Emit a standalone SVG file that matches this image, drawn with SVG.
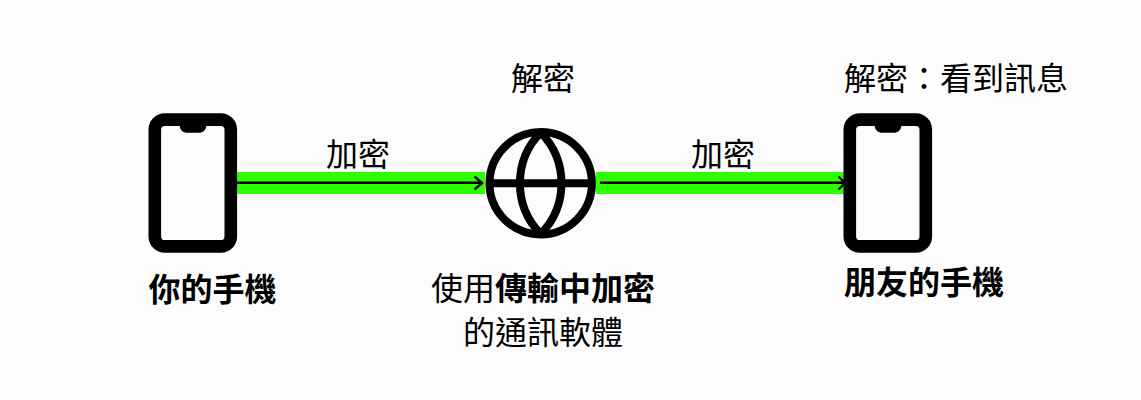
<svg xmlns="http://www.w3.org/2000/svg" width="1141" height="400" viewBox="0 0 1141 400">
<style>
text{font-family:"Noto Sans CJK TC","Noto Sans CJK SC",sans-serif;font-size:32px;fill:#000;text-anchor:middle}
.b{font-weight:700}
.band{fill:#2eff00}
.line{stroke:#000;stroke-width:2.4;fill:none}
.head{stroke:#000;stroke-width:2.4;fill:none}
.ph{fill:none;stroke:#000;stroke-width:12.6}
.g{fill:none;stroke:#000;stroke-width:8}
</style>
<defs>
<g id="phone">
<rect class="ph" x="6.3" y="6.3" width="76" height="126.8" rx="10" ry="10"/>
<path d="M31 12 C31.500 17 34.500 19.500 39 19.500 H50 C54.500 19.500 57.500 17 58 12 Z" fill="#000"/>
</g>
</defs>
<rect width="1141" height="400" fill="#fcfcfc"/>
<g id="connectors">
<rect class="band" x="237" y="172" width="248" height="22"/>
<rect class="band" x="596" y="172" width="248" height="22"/>
<path class="line" d="M237 182.800H482"/>
<path class="head" d="M474.500 176.500L482 183L474.500 189.500"/>
<path class="line" d="M600 182.800H845"/>
<path class="head" d="M838.500 176.500L845 183L838.500 189.500"/>
</g>
<g id="phone-you">
<use href="#phone" x="148.500" y="113.300"/>
<text class="b" x="212.500" y="301">你的手機</text>
</g>
<g id="globe">
<circle class="g" cx="540.700" cy="183.300" r="51.200"/>
<path class="g" d="M540.700 132.500A72.400 72.400 0 0 0 540.700 234M540.700 132.500A72.400 72.400 0 0 1 540.700 234M490 183.300H591"/>
<text x="543" y="90">解密</text>
<text x="543" y="300">使用<tspan class="b">傳輸中加密</tspan></text>
<text x="543" y="344">的通訊軟體</text>
</g>
<g id="phone-friend">
<use href="#phone" x="843.500" y="113.300"/>
<text class="b" x="924" y="294">朋友的手機</text>
<text x="956" y="90">解密：看到訊息</text>
</g>
<g id="labels">
<text x="358" y="166">加密</text>
<text x="723" y="166">加密</text>
</g>
</svg>
